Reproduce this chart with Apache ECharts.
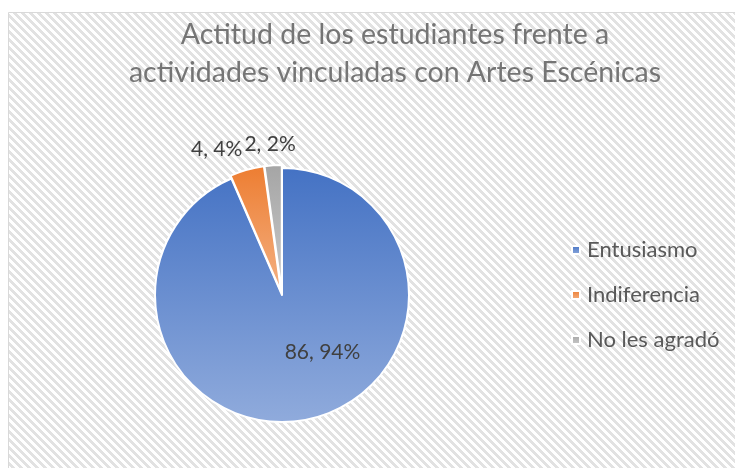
<!DOCTYPE html>
<html><head><meta charset="utf-8">
<script src="https://cdn.jsdelivr.net/npm/echarts@6/dist/echarts.min.js"></script>
<style>html,body{margin:0;padding:0;background:#fff}#c{width:735px;height:468px}</style>
</head><body><div id="c"></div>
<script>
const titleLines = ['Actitud de los estudiantes frente a', 'actividades vinculadas con Artes Escénicas'];
const categories = ['Entusiasmo', 'Indiferencia', 'No les agradó'];
const values = [86, 4, 2];
const percents = [94, 4, 2];
const topColors = ['#4472C4', '#ED7D31', '#A5A5A5'];
const bottomColors = ['#90ABDC', '#F4B183', '#CACACA'];
const labelShift = [[27, -8], [2, -15], [28, -15]];

// hatch pattern
const pc = document.createElement('canvas');
pc.width = 8; pc.height = 8;
const pctx = pc.getContext('2d');
pctx.fillStyle = '#ffffff'; pctx.fillRect(0,0,8,8);
pctx.fillStyle = '#e2e2e2';
for (let y = 0; y < 8; y++) for (let x = 0; x < 8; x++) {
  if (((x - y) % 8 + 8) % 8 < 4) pctx.fillRect(x, y, 1, 1);
}

const chart = echarts.init(document.getElementById('c'), null, {renderer:'canvas'});
const data = categories.map((n, i) => ({
  name: n, value: values[i], selected: i > 0,
  itemStyle: {color: {type:'linear', x:0, y:0, x2:0, y2:1,
    colorStops:[{offset:0, color: topColors[i]}, {offset:1, color: bottomColors[i]}]}},
  label: i === 0 ? {position:'inside'} : {position:'outside'}
}));
chart.setOption({
  animation: false,
  graphic: [{type:'rect', shape:{x:8.5, y:12.5, width:740, height:470}, z:-10,
    style:{fill:{image: pc, repeat:'repeat'}, stroke:'#d9d9d9', lineWidth:1}}],
  title: {text: titleLines.join('\n'), left: 395, textAlign: 'center', top: 16, padding: 0,
    textStyle: {fontFamily: 'Lato', fontSize: 28.5, fontWeight: 'normal', color: '#757575', lineHeight: 38}},
  legend: {orient: 'vertical', left: 566, top: 234, itemWidth: 8, itemHeight: 8, itemGap: 23, icon: 'rect',
    data: categories,
    textStyle: {fontFamily: 'Lato', fontSize: 22, color: '#595959', padding:[0,0,0,2]}},
  series: [{
    type: 'pie', center: [282, 295], radius: 127, startAngle: 90, clockwise: true,
    selectedMode: 'multiple', selectedOffset: 3, avoidLabelOverlap: false,
    itemStyle: {borderColor: '#ffffff', borderWidth: 2},
    label: {show: true, fontFamily: 'Lato', fontSize: 21, color: '#404040',
      formatter: p => p.value + ', ' + percents[p.dataIndex] + '%'},
    labelLine: {show: false, length: 6, length2: 0},
    labelLayout: p => ({dx: labelShift[p.dataIndex][0], dy: labelShift[p.dataIndex][1], hideOverlap: false}),
    emphasis: {disabled: true},
    data: data
  }]
});
</script></body></html>
